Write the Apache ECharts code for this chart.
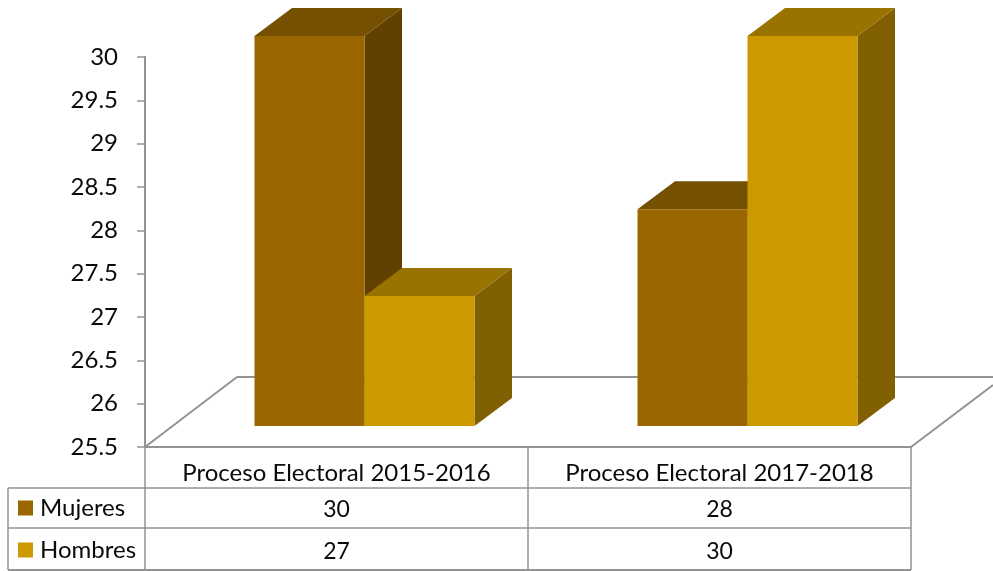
<!DOCTYPE html>
<html>
<head>
<meta charset="utf-8">
<style>html,body{margin:0;padding:0;background:#fff}#c{width:993px;height:571px}</style>
<script src="https://cdn.jsdelivr.net/npm/echarts@6/dist/echarts.min.js"></script>
</head>
<body>
<div id="c"></div>
<script>
const categories = ['Proceso Electoral 2015-2016', 'Proceso Electoral 2017-2018'];
const mujeres = [30, 28];
const hombres = [27, 30];
const yTicks = { min: 25.5, max: 30, interval: 0.5 };

const FONT = 'Lato';
const GRID = { left: 145, top: 57, width: 766, height: 390 };
const BAR_W = 110, DEPTH_X = 37.5, DEPTH_Y = 28, LIFT = 21, SHIFT = 28;
const GRAY = '#939393';
const TEXT = '#0a0a0a';

function poly(points, color) {
  return { type: 'polygon', shape: { points }, style: { fill: color } };
}
function bar3d(colors, sideIndex) {
  return function (params, api) {
    const top = api.coord([api.value(0), api.value(1)]);
    const base = api.coord([api.value(0), yTicks.min]);
    const x0 = top[0] + SHIFT - (sideIndex === 0 ? BAR_W : 0);
    const x1 = x0 + BAR_W;
    const yT = top[1] - LIFT;
    const yB = base[1] - LIFT;
    return {
      type: 'group',
      children: [
        poly([[x1, yT], [x1 + DEPTH_X, yT - DEPTH_Y], [x1 + DEPTH_X, yB - DEPTH_Y], [x1, yB]], colors.side),
        poly([[x0, yT], [x0 + DEPTH_X, yT - DEPTH_Y], [x1 + DEPTH_X, yT - DEPTH_Y], [x1, yT]], colors.top),
        poly([[x0, yT], [x1, yT], [x1, yB], [x0, yB]], colors.front)
      ]
    };
  };
}
function line(x1, y1, x2, y2, w) {
  return { type: 'line', z: 0, shape: { x1, y1, x2, y2 }, style: { stroke: GRAY, lineWidth: w || 1.5 } };
}
const right = GRID.left + GRID.width, bottom = GRID.top + GRID.height;
const rowY = [510, 552];
const colX = [GRID.left + GRID.width / 4, GRID.left + GRID.width * 3 / 4];
const cells = [];
[mujeres, hombres].forEach((vals, r) => vals.forEach((v, c) => cells.push({
  type: 'text', x: colX[c], y: rowY[r],
  style: { text: String(v), fontFamily: FONT, fontSize: 23, fill: TEXT, align: 'center', verticalAlign: 'middle' }
})));

const chart = echarts.init(document.getElementById('c'), null, { renderer: 'canvas' });
chart.setOption({
  animation: false,
  backgroundColor: '#fff',
  grid: GRID,
  legend: {
    left: 18, top: 494, height: 76, orient: 'vertical', padding: 0,
    itemWidth: 15, itemHeight: 15, itemGap: 14,
    icon: 'rect', selectedMode: false,
    textStyle: { fontFamily: FONT, fontSize: 24, lineHeight: 28, color: TEXT, padding: [0, 0, 0, 2] },
    data: ['Mujeres', 'Hombres']
  },
  xAxis: {
    type: 'category', data: categories, boundaryGap: true,
    axisLine: { show: true, lineStyle: { color: GRAY, width: 2 } },
    axisTick: { show: true, length: 123, lineStyle: { color: GRAY, width: 1.5 } },
    axisLabel: { margin: 14, interval: 0, fontFamily: FONT, fontSize: 24, color: TEXT }
  },
  yAxis: {
    type: 'value', min: yTicks.min, max: yTicks.max, interval: yTicks.interval,
    splitLine: { show: false },
    axisLine: { show: true, lineStyle: { color: GRAY, width: 2 } },
    axisTick: { show: true, length: 8, lineStyle: { color: GRAY, width: 1.5 } },
    axisLabel: { margin: 27, fontFamily: FONT, fontSize: 24, color: TEXT }
  },
  graphic: [
    line(GRID.left, bottom, 237, 377, 2),
    line(237, 377, 993, 377, 2),
    line(right, bottom, 993, 385, 2),
    line(8, 488, right, 488),
    line(8, 528, right, 528),
    line(8, 570, right, 570, 2),
    line(8, 488, 8, 570)
  ].concat(cells),
  series: [
    {
      name: 'Mujeres', type: 'custom', coordinateSystem: 'cartesian2d', clip: false,
      itemStyle: { color: '#996600' },
      renderItem: bar3d({ front: '#996600', top: '#745000', side: '#614000' }, 0),
      encode: { x: 0, y: 1 },
      data: mujeres.map((v, i) => [i, v])
    },
    {
      name: 'Hombres', type: 'custom', coordinateSystem: 'cartesian2d', clip: false,
      itemStyle: { color: '#CC9900' },
      renderItem: bar3d({ front: '#CC9900', top: '#997300', side: '#806000' }, 1),
      encode: { x: 0, y: 1 },
      data: hombres.map((v, i) => [i, v])
    }
  ]
});
</script>
</body>
</html>
